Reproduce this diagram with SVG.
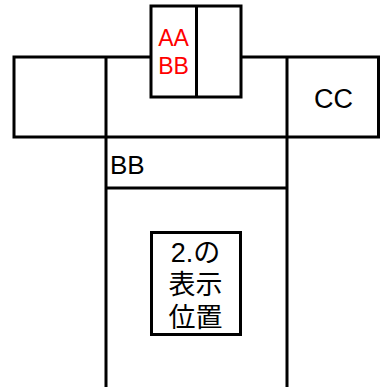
<svg xmlns="http://www.w3.org/2000/svg" width="380" height="387" viewBox="0 0 380 387">
<style>
.s{fill:#fff;stroke:#000;stroke-width:3}
.l{fill:none;stroke:#000;stroke-width:3}
.t{font-family:"Liberation Sans",Arial,sans-serif;fill:#000}
.r{fill:#ff0000}
.j{font-family:"Liberation Sans","Noto Sans CJK JP",sans-serif;font-size:27px;text-anchor:middle;fill:#000}
</style>
<rect width="380" height="387" fill="#fff"/>
<g id="frame">
<rect class="s" x="14" y="57" width="364.5" height="80"/>
</g>
<g id="connectors">
<line class="l" x1="106" y1="57" x2="106" y2="387"/>
<line class="l" x1="287" y1="57" x2="287" y2="387"/>
<line class="l" x1="106" y1="188" x2="287" y2="188"/>
</g>
<g id="topbox">
<rect class="s" x="151" y="6" width="90" height="91"/>
<line class="l" x1="196.5" y1="6" x2="196.5" y2="97"/>
<text class="t r" x="173.5" y="45.5" font-size="23" text-anchor="middle">AA</text>
<text class="t r" x="173.5" y="73.5" font-size="23" text-anchor="middle">BB</text>
</g>
<g id="cc">
<text class="t" x="333.5" y="108" font-size="27" text-anchor="middle">CC</text>
</g>
<g id="bb">
<text class="t" x="110" y="174" font-size="26">BB</text>
</g>
<g id="center">
<rect class="s" x="151.5" y="232.5" width="89" height="102"/>
<text class="j" x="195.5" y="261.5">2.の</text>
<text class="j" x="195.5" y="294">表示</text>
<text class="j" x="195.5" y="326.5">位置</text>
</g>
</svg>
